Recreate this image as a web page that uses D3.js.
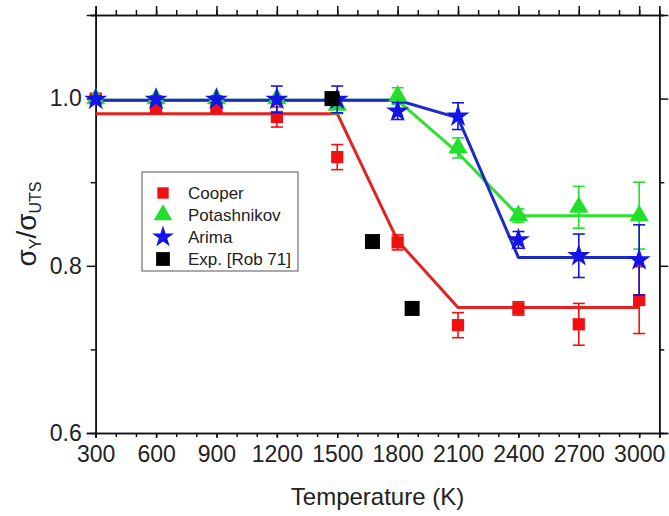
<!DOCTYPE html>
<html>
<head>
<meta charset="utf-8">
<script src="https://cdn.jsdelivr.net/npm/d3@7"></script>
<style>
  html, body { margin: 0; padding: 0; background: #fff; }
  svg { display: block; font-family: "Liberation Sans", Arial, sans-serif; }
</style>
</head>
<body>
<svg id="chart" width="669" height="516"></svg>
<script>
// ---- data ----
const temps = [300, 600, 900, 1200, 1500, 1800, 2100, 2400, 2700, 3000];
const cooperVals = [1.0, 0.989, 0.989, 0.978, 0.93, 0.828, 0.729, 0.749, 0.73, 0.759];
const cooperErr  = [0.004, 0.005, 0.005, 0.012, 0.015, 0.009, 0.015, 0.008, 0.025, 0.04];
const potVals = [1.0, 1.0, 1.0, 1.0, 0.992, 1.003, 0.941, 0.86, 0.87, 0.86];
const potErr  = [0, 0, 0, 0, 0.01, 0.01, 0.012, 0.008, 0.025, 0.04];
const arimaVals = [0.999, 0.999, 0.999, 0.999, 0.999, 0.985, 0.979, 0.831, 0.812, 0.807];
const arimaErr  = [0.004, 0.004, 0.004, 0.016, 0.016, 0.01, 0.016, 0.01, 0.026, 0.042];
const expT = [1474, 1675, 1872];
const expVals = [1.0, 0.829, 0.749];

const cooperFitT = [300, 1500, 1800, 2100, 3000];
const cooperFitV = [0.982, 0.982, 0.83, 0.75, 0.75];
const potFitT = [300, 1800, 2100, 2400, 3000];
const potFitV = [0.998, 0.998, 0.935, 0.86, 0.86];
const arimaFitT = [300, 1800, 2100, 2400, 3000];
const arimaFitV = [0.998, 0.998, 0.977, 0.81, 0.81];

const xTicks = [300, 600, 900, 1200, 1500, 1800, 2100, 2400, 2700, 3000];
const yTicks = [0.6, 0.8, 1.0];
const legendNames = ["Cooper", "Potashnikov", "Arima", "Exp. [Rob 71]"];

// ---- layout ----
const svg = d3.select("#chart");
const L = 95.7, R = 659.3, T = 15, B = 433;
const x = d3.scaleLinear().domain([300, 3100]).range([L, R]);
const y = d3.scaleLinear().domain([0.6, 1.1]).range([B, T]);

const RED = "#f01010", RED_LINE = "#e32222";
const GREEN = "#22e02a", GREEN_LINE = "#2ee030";
const BLUE = "#1414e6", BLUE_LINE = "#1e2ac8";

// ---- axes ----
const minorX = d3.range(300, 3101, 100);
const minorY = [0.7, 0.9, 1.1];

function styleAxis(g) {
  g.select(".domain").attr("stroke", "#111").attr("stroke-width", 1.6);
  g.selectAll(".tick line").attr("stroke", "#111").attr("stroke-width", 1.5);
}

// bottom
const gB = svg.append("g").attr("transform", `translate(0,${B})`)
  .call(d3.axisBottom(x).tickValues(minorX).tickSize(4).tickFormat(""));
styleAxis(gB);
const gBM = svg.append("g").attr("transform", `translate(0,${B})`)
  .call(d3.axisBottom(x).tickValues(xTicks).tickSize(5).tickPadding(8).tickFormat(d3.format("d")));
styleAxis(gBM);
gBM.selectAll("text").attr("font-size", 23).attr("fill", "#222")
  .attr("font-family", "Liberation Sans, Arial, sans-serif");

// top
const gT = svg.append("g").attr("transform", `translate(0,${T})`)
  .call(d3.axisTop(x).tickValues(minorX).tickSize(5).tickFormat(""));
styleAxis(gT);
const gTM = svg.append("g").attr("transform", `translate(0,${T})`)
  .call(d3.axisTop(x).tickValues(xTicks).tickSize(9).tickFormat(""));
styleAxis(gTM);

// left
const gL = svg.append("g").attr("transform", `translate(${L},0)`)
  .call(d3.axisLeft(y).tickValues(minorY).tickSize(5).tickFormat(""));
styleAxis(gL);
const gLM = svg.append("g").attr("transform", `translate(${L},0)`)
  .call(d3.axisLeft(y).tickValues(yTicks).tickSize(9).tickPadding(5).tickFormat(d3.format(".1f")));
styleAxis(gLM);
gLM.selectAll("text").attr("font-size", 23).attr("fill", "#222")
  .attr("font-family", "Liberation Sans, Arial, sans-serif");

// right
const gR = svg.append("g").attr("transform", `translate(${R},0)`)
  .call(d3.axisRight(y).tickValues(minorY).tickSize(5).tickFormat(""));
styleAxis(gR);
const gRM = svg.append("g").attr("transform", `translate(${R},0)`)
  .call(d3.axisRight(y).tickValues(yTicks).tickSize(9).tickFormat(""));
styleAxis(gRM);

// ---- axis titles ----
svg.append("text")
  .attr("x", (L + R) / 2).attr("y", 505)
  .attr("text-anchor", "middle").attr("font-size", 24).attr("fill", "#222")
  .text("Temperature (K)");

const yt = svg.append("text")
  .attr("transform", "translate(36,224) rotate(-90)")
  .attr("text-anchor", "middle").attr("font-size", 28).attr("fill", "#222");
yt.append("tspan").text("σ");
yt.append("tspan").attr("font-size", 16).attr("dy", 5).text("Y");
yt.append("tspan").attr("dy", -5).text("/σ");
yt.append("tspan").attr("font-size", 16).attr("dy", 5).text("UTS");

// ---- fit lines ----
const line = d3.line().x(d => x(d[0])).y(d => y(d[1]));
function fit(ts, vs, color) {
  svg.append("path")
    .datum(ts.map((t, i) => [t, vs[i]]))
    .attr("d", line).attr("fill", "none")
    .attr("stroke", color).attr("stroke-width", 3).attr("stroke-linejoin", "round");
}
fit(cooperFitT, cooperFitV, RED_LINE);
fit(potFitT, potFitV, GREEN_LINE);
fit(arimaFitT, arimaFitV, BLUE_LINE);

// ---- error bars + markers ----
function errorBars(vals, errs, color) {
  const g = svg.append("g").attr("stroke", color).attr("stroke-width", 1.6);
  temps.forEach((t, i) => {
    if (!errs[i]) return;
    const cx = x(t), y1 = y(vals[i] + errs[i]), y2 = y(vals[i] - errs[i]);
    g.append("line").attr("x1", cx).attr("x2", cx).attr("y1", y1).attr("y2", y2);
    g.append("line").attr("x1", cx - 6).attr("x2", cx + 6).attr("y1", y1).attr("y2", y1);
    g.append("line").attr("x1", cx - 6).attr("x2", cx + 6).attr("y1", y2).attr("y2", y2);
  });
}
function markers(ts, vals, type, size, color) {
  svg.append("g").selectAll("path").data(ts).join("path")
    .attr("transform", (t, i) => `translate(${x(t)},${y(vals[i])})`)
    .attr("d", d3.symbol().type(type).size(size))
    .attr("fill", color);
}
errorBars(cooperVals, cooperErr, RED);
markers(temps, cooperVals, d3.symbolSquare, 150, RED);
errorBars(potVals, potErr, GREEN);
markers(temps, potVals, d3.symbolTriangle, 160, GREEN);
errorBars(arimaVals, arimaErr, BLUE);
markers(temps, arimaVals, d3.symbolStar, 165, BLUE);
markers(expT, expVals, d3.symbolSquare, 225, "#000");

// ---- legend ----
const lg = svg.append("g");
lg.append("rect").attr("x", 142).attr("y", 172).attr("width", 156).attr("height", 99)
  .attr("fill", "#fff").attr("stroke", "#555").attr("stroke-width", 1);
const legSyms = [d3.symbolSquare, d3.symbolTriangle, d3.symbolStar, d3.symbolSquare];
const legSizes = [130, 150, 150, 190];
const legColors = [RED, GREEN, BLUE, "#000"];
const rowY = [193, 215, 237, 259];
legendNames.forEach((n, i) => {
  lg.append("path").attr("transform", `translate(163,${rowY[i]})`)
    .attr("d", d3.symbol().type(legSyms[i]).size(legSizes[i])).attr("fill", legColors[i]);
  lg.append("text").attr("x", 188).attr("y", rowY[i]).attr("dy", "0.35em")
    .attr("font-size", 17).attr("fill", "#222").text(n);
});
</script>
</body>
</html>
